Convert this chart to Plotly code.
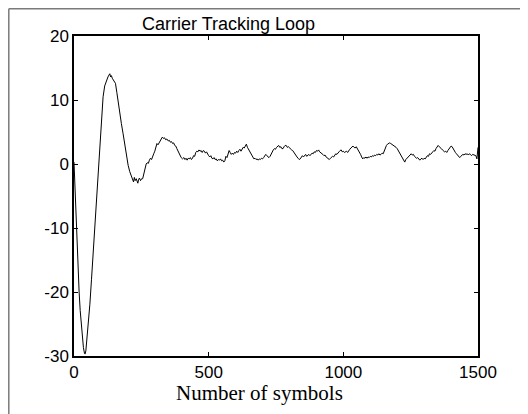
import plotly.graph_objects as go

# ---- data ----
symbols = [0, 4, 7, 11, 15, 19, 23, 27, 31, 35, 39, 41, 44, 49, 54, 59, 65, 71, 77, 83, 90, 96,
           102, 108, 114, 120, 126, 130, 133, 136, 139, 142, 148, 154, 159, 164, 170, 176, 182, 188,
           194, 201, 207, 213, 218, 221, 224, 227, 231, 234, 237, 240, 243, 247, 251, 255, 259, 263,
           268, 272, 276, 280, 284, 288, 292, 296, 300, 304, 308, 312, 316, 320, 324, 328, 332, 336,
           340, 345, 350, 354, 358, 362, 366, 370, 374, 378, 382, 386, 390, 394, 398, 403, 408, 412,
           416, 420, 424, 428, 432, 436, 440, 444, 448, 452, 456, 460, 464, 468, 472, 476, 480, 484,
           488, 492, 496, 500, 504, 508, 512, 516, 520, 524, 528, 532, 536, 540, 544, 548, 552, 556,
           560, 564, 568, 572, 576, 580, 584, 588, 592, 596, 600, 604, 608, 612, 616, 620, 624, 628,
           632, 636, 640, 644, 648, 652, 656, 660, 664, 668, 672, 676, 680, 684, 688, 692, 696, 700,
           704, 708, 712, 716, 720, 724, 728, 732, 736, 740, 744, 748, 752, 756, 760, 764, 768, 772,
           776, 780, 784, 788, 792, 796, 800, 804, 808, 812, 816, 820, 824, 828, 832, 836, 840, 844,
           848, 852, 856, 860, 864, 868, 872, 876, 880, 884, 888, 892, 896, 900, 904, 908, 912, 916,
           920, 924, 928, 932, 936, 940, 944, 948, 952, 956, 960, 964, 968, 972, 976, 980, 984, 988,
           992, 996, 1000, 1004, 1008, 1012, 1016, 1020, 1024, 1028, 1032, 1036, 1040, 1044, 1048,
           1052, 1056, 1060, 1064, 1068, 1072, 1076, 1080, 1084, 1088, 1092, 1096, 1100, 1104, 1108,
           1112, 1116, 1120, 1124, 1128, 1132, 1136, 1140, 1144, 1148, 1152, 1156, 1160, 1164, 1168,
           1172, 1176, 1180, 1184, 1188, 1192, 1196, 1200, 1204, 1208, 1212, 1216, 1220, 1224, 1228,
           1232, 1236, 1240, 1244, 1248, 1252, 1256, 1260, 1264, 1268, 1272, 1276, 1280, 1284, 1288,
           1292, 1296, 1300, 1304, 1308, 1312, 1316, 1320, 1324, 1328, 1332, 1336, 1340, 1344, 1348,
           1352, 1356, 1360, 1364, 1368, 1372, 1376, 1380, 1384, 1388, 1392, 1396, 1400, 1404, 1408,
           1412, 1416, 1420, 1424, 1428, 1432, 1436, 1440, 1444, 1448, 1452, 1456, 1460, 1464, 1468,
           1472, 1476, 1480, 1484, 1488, 1492, 1496, 1498, 1500]

tracking = [0.3, -4.0, -8.8, -13.0, -16.7, -20.0, -22.9, -25.2, -27.1, -28.7, -29.6, -29.7, -29.2,
            -27.1, -24.6, -21.9, -18.0, -14.0, -9.6, -5.2, -0.2, 4.2, 7.6, 10.5, 12.2, 13.1, 13.6,
            13.9, 14.1, 13.6, 13.8, 13.4, 13.0, 12.6, 11.2, 9.5, 7.9, 6.3, 4.8, 3.2, 1.4, -0.2, -1.2,
            -2.0, -2.6, -2.8, -2.1, -2.6, -2.3, -2.9, -3.0, -2.4, -2.2, -2.6, -2.3, -2.3, -1.6, -0.6,
            0.0, 0.2, 0.1, 0.6, 0.9, 0.7, 1.3, 1.6, 2.0, 2.6, 3.2, 3.0, 3.3, 3.7, 3.9, 4.2, 4.0, 4.1,
            3.8, 3.9, 3.6, 3.7, 3.4, 3.5, 3.2, 3.3, 2.9, 2.8, 2.4, 2.0, 1.9, 1.4, 1.0, 0.8, 1.0, 0.7,
            0.9, 0.6, 0.9, 0.8, 1.0, 0.7, 0.9, 1.3, 1.2, 1.8, 2.0, 1.9, 2.2, 2.0, 2.1, 1.8, 2.1, 2.0,
            1.7, 1.9, 1.5, 1.3, 1.1, 1.3, 0.9, 0.8, 1.0, 0.7, 0.8, 0.5, 0.7, 0.6, 0.8, 0.5, 0.6, 0.3,
            0.5, 1.2, 1.0, 1.7, 2.1, 1.8, 1.5, 1.7, 1.5, 1.8, 1.7, 2.0, 1.8, 2.1, 2.3, 2.0, 2.4, 2.6,
            2.5, 2.9, 3.1, 2.6, 2.3, 2.0, 1.6, 1.3, 1.0, 0.8, 0.9, 0.7, 0.8, 0.6, 0.8, 0.7, 0.9, 0.8,
            1.0, 1.2, 1.5, 1.3, 1.1, 1.0, 1.2, 1.6, 1.9, 2.2, 2.4, 2.3, 2.6, 2.8, 2.9, 2.6, 2.7, 2.4,
            2.4, 2.7, 2.9, 2.9, 2.6, 2.7, 2.5, 2.3, 2.2, 2.1, 1.8, 1.6, 1.3, 1.1, 0.9, 0.7, 0.8, 1.0,
            1.3, 1.1, 1.3, 1.5, 1.2, 1.3, 1.5, 1.3, 1.5, 1.7, 1.6, 1.9, 1.8, 2.1, 2.0, 2.2, 1.9, 1.8,
            1.6, 1.5, 1.3, 1.4, 1.1, 1.0, 0.8, 0.7, 0.9, 1.0, 1.2, 1.1, 1.4, 1.6, 1.5, 1.8, 1.9, 2.1,
            2.2, 1.9, 2.0, 1.8, 1.9, 2.0, 1.8, 2.2, 2.3, 2.5, 2.6, 2.8, 2.6, 2.5, 2.7,
            2.4, 2.3, 1.9, 1.5, 1.1, 0.8, 1.0, 0.9, 1.1, 0.9, 1.1, 1.0, 1.2, 1.1, 1.3,
            1.2, 1.4, 1.3, 1.5, 1.4, 1.6, 1.4, 1.5, 1.7, 1.6, 2.1, 2.5, 2.9, 3.1, 3.2,
            3.3, 3.2, 3.1, 3.0, 2.9, 2.8, 2.6, 2.4, 2.1, 1.8, 1.5, 1.3, 0.9, 0.6, 0.3,
            0.7, 0.9, 1.1, 1.3, 1.5, 1.6, 1.4, 1.5, 1.2, 1.1, 0.9, 1.0, 0.7, 0.6, 0.8,
            0.9, 0.7, 0.9, 0.8, 1.1, 1.3, 1.2, 1.6, 1.5, 1.8, 1.9, 2.1, 2.0, 2.4, 2.6,
            2.9, 2.7, 2.6, 2.4, 2.2, 2.1, 1.9, 2.0, 1.8, 2.1, 2.3, 2.5, 2.8, 2.7, 2.3,
            2.0, 1.8, 1.6, 1.4, 1.2, 1.0, 1.2, 1.3, 1.5, 1.4, 1.6, 1.5, 1.6, 1.4, 1.6,
            1.5, 1.3, 1.5, 1.4, 1.3, 1.3, 0.8, 1.6, 2.6]

x_ticks = [0, 500, 1000, 1500]
y_ticks = [-30, -20, -10, 0, 10, 20]

TITLE = "Carrier Tracking Loop"
XLABEL = "Number of symbols"

# page has an 8px body margin, so the figure is laid out 8px smaller
OFF = 8
W, H = 528 - OFF, 414 - OFF
L, T = 74 - OFF, 36 - OFF
pw, ph = 404, 320
R, B = W - L - pw, H - T - ph

fig = go.Figure()
fig.add_trace(go.Scatter(x=symbols, y=tracking, mode="lines",
                         line=dict(color="black", width=1), showlegend=False,
                         hoverinfo="skip"))

axis_common = dict(showline=True, linecolor="black", linewidth=1.5, mirror="ticks",
                   ticks="inside", ticklen=4, tickcolor="black", tickwidth=1,
                   showgrid=False, zeroline=False,
                   tickfont=dict(family="Arial, Liberation Sans, sans-serif", size=17, color="black"))

fig.update_xaxes(range=[0, 1500], tickvals=x_ticks, ticktext=[str(v) for v in x_ticks], **axis_common)
fig.update_yaxes(range=[-30, 20], tickvals=y_ticks, ticktext=[str(v) for v in y_ticks], **axis_common)

# outer figure frame (top and left edges visible)
fx = (0.8 - L) / pw
fy = (H - B - 0.8) / ph
fig.add_shape(type="line", xref="paper", yref="paper", x0=fx, y0=fy, x1=2, y1=fy,
              line=dict(color="#7a7a7a", width=1.5))
fig.add_shape(type="line", xref="paper", yref="paper", x0=fx, y0=fy, x1=fx, y1=-1,
              line=dict(color="#7a7a7a", width=1.5))

fig.add_annotation(text=TITLE, xref="paper", yref="paper",
                   x=(228 - 74) / pw, y=1, yanchor="bottom", yshift=0, showarrow=False,
                   font=dict(family="Arial, Liberation Sans, sans-serif", size=18, color="black"))
fig.add_annotation(text=XLABEL, xref="paper", yref="paper",
                   x=(259 - 74) / pw, y=0, yanchor="top", yshift=-24, showarrow=False,
                   borderpad=0,
                   font=dict(family="Times New Roman, Liberation Serif, serif", size=21, color="black"))

fig.update_layout(width=W, height=H, margin=dict(l=L, r=R, t=T, b=B, pad=0),
                  paper_bgcolor="white", plot_bgcolor="white")

fig.write_html("out.html")
